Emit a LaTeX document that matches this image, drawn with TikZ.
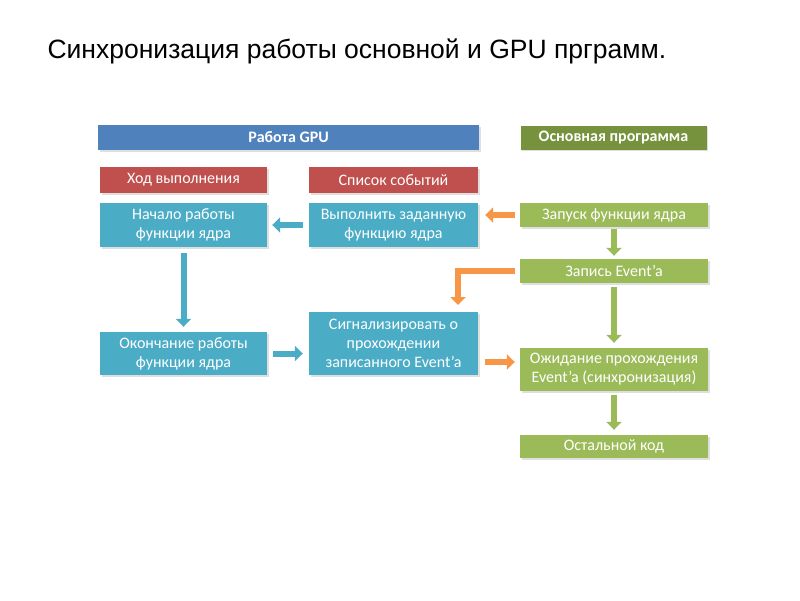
\documentclass[tikz,border=0pt]{standalone}
\usepackage{fontspec}
\setmainfont{Carlito}
\newfontfamily\titlefont{Liberation Sans}
\usepackage{xcolor}
\usetikzlibrary{arrows.meta,shadows,positioning}

\definecolor{gpublue}{HTML}{4F81BD}
\definecolor{hostgreen}{HTML}{76923C}
\definecolor{listred}{HTML}{C0504D}
\definecolor{kernteal}{HTML}{4BACC6}
\definecolor{stepgreen}{HTML}{9BBB59}
\definecolor{sigorange}{HTML}{F79646}

\begin{document}
\begin{tikzpicture}[x=1pt,y=-1pt]
  \tikzstyle{box}=[draw=none,text=white,align=center,inner sep=0pt,
    font=\fontsize{16}{19}\selectfont,
    drop shadow={shadow xshift=1.5pt,shadow yshift=-1.5pt,opacity=0.25}]
  \tikzstyle{head}=[box,font=\bfseries\fontsize{16}{19}\selectfont]
  \tikzstyle{blockarrow}=[line width=6pt,line join=miter,
    -{Triangle[length=8pt,width=15pt]}]
  \useasboundingbox[fill=white] (0,0) rectangle (800,600);
  \node[anchor=base west,font=\titlefont\fontsize{26.5}{30}\selectfont] (title) at (44,58)
    {Синхронизация работы основной и GPU прграмм.};
  % headers
  \node[head,fill=gpublue,minimum width=381pt,minimum height=25pt] (gpu) at (288.5,137.5) {Работа GPU};
  \node[head,fill=hostgreen,minimum width=186pt,minimum height=24pt] (main_prog) at (613.5,137.5) {Основная программа};
  \node[box,fill=listred,minimum width=167pt,minimum height=26pt] (flow) at (183.5,180) {Ход выполнения};
  \node[box,fill=listred,minimum width=169pt,minimum height=26pt] (events) at (393.5,180) {Список событий};
  % GPU side
  \node[box,fill=kernteal,minimum width=167pt,minimum height=44pt] (start) at (183.5,225) {Начало работы\\функции ядра};
  \node[box,fill=kernteal,minimum width=169pt,minimum height=44pt] (exec) at (393.5,225) {Выполнить заданную\\функцию ядра};
  \node[box,fill=kernteal,minimum width=167pt,minimum height=43pt] (finish) at (183.5,353.5) {Окончание работы\\функции ядра};
  \node[box,fill=kernteal,minimum width=169pt,minimum height=63pt] (signal) at (393.5,343.5) {Сигнализировать о\\прохождении\\записанного Event’a};
  % host side
  \node[box,fill=stepgreen,minimum width=188pt,minimum height=24pt] (launch) at (614,215) {Запуск функции ядра};
  \node[box,fill=stepgreen,minimum width=188pt,minimum height=24pt] (record) at (614,271) {Запись Event’a};
  \node[box,fill=stepgreen,minimum width=188pt,minimum height=43pt] (wait) at (614,369.5) {Ожидание прохождения\\Event’a (синхронизация)};
  \node[box,fill=stepgreen,minimum width=188pt,minimum height=23pt] (rest) at (614,446.5) {Остальной код};
  \coordinate (sig_in) at (458,312);
  \coordinate (sync) at (0,362);
  % arrows
  \draw[blockarrow,kernteal,shorten <=6pt,shorten >=5pt] (exec.west) -- (start.east);
  \draw[blockarrow,kernteal,shorten <=6pt,shorten >=5pt] (start.south) -- (finish.north);
  \draw[blockarrow,kernteal,shorten <=6pt,shorten >=6pt] (finish.east) -- (signal.west |- finish.east);
  \draw[blockarrow,sigorange,shorten <=5pt,shorten >=7pt] (launch.west) -- (exec.east |- launch.west);
  \draw[blockarrow,sigorange,shorten <=5pt,shorten >=7pt] (record.west) -| (sig_in);
  \draw[blockarrow,sigorange,shorten <=7pt,shorten >=5pt] (signal.east |- sync) -- (wait.west |- sync);
  \draw[blockarrow,stepgreen,shorten <=2pt,shorten >=3pt] (launch.south) -- (record.north);
  \draw[blockarrow,stepgreen,shorten <=4pt,shorten >=5pt] (record.south) -- (wait.north);
  \draw[blockarrow,stepgreen,shorten <=4pt,shorten >=5pt] (wait.south) -- (rest.north);
\end{tikzpicture}
\end{document}
